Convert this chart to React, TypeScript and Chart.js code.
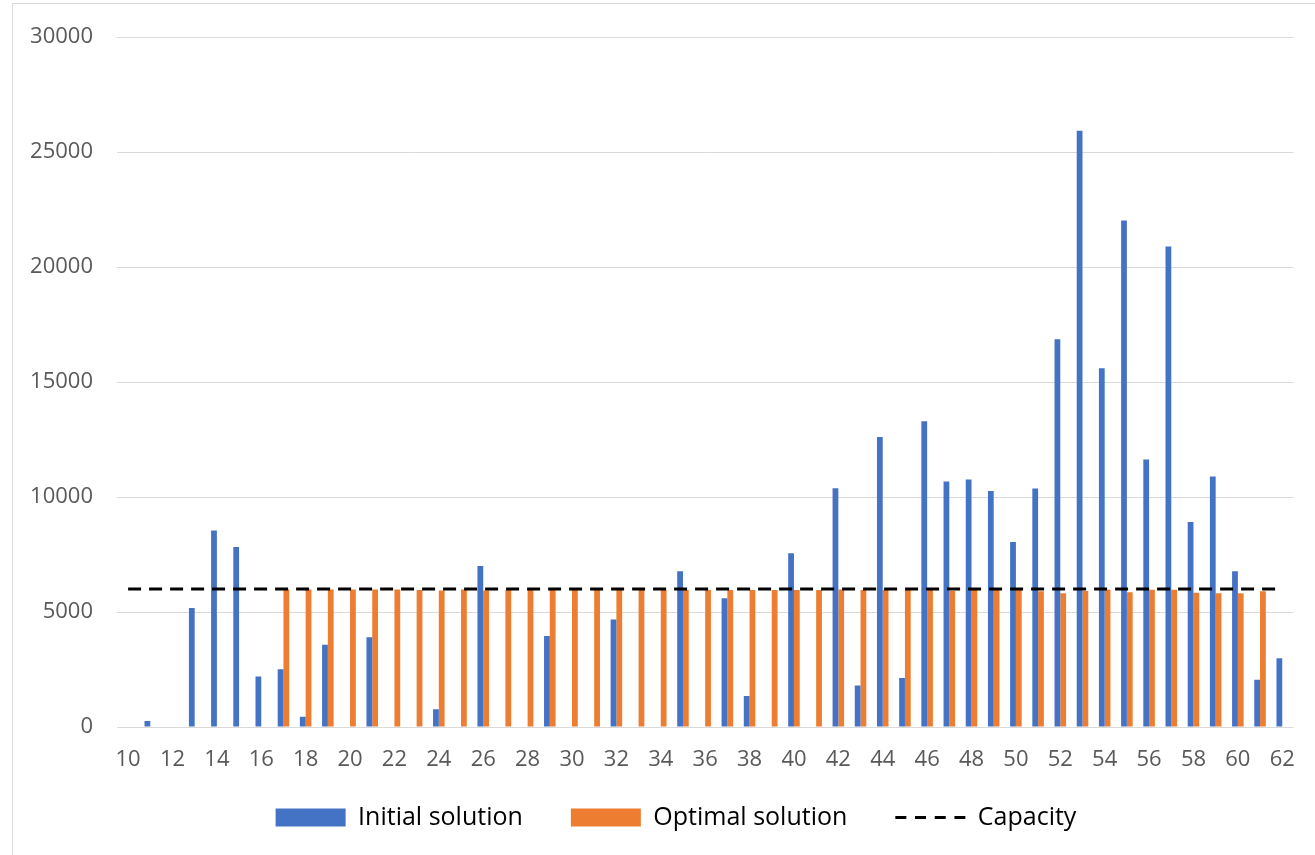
import { useEffect, useRef } from "react";
import { Chart, registerables } from "chart.js";

Chart.register(...registerables);

// Node numbers along the x axis
const categories = [
  "10", "11", "12", "13", "14", "15", "16", "17", "18", "19",
  "20", "21", "22", "23", "24", "25", "26", "27", "28", "29",
  "30", "31", "32", "33", "34", "35", "36", "37", "38", "39",
  "40", "41", "42", "43", "44", "45", "46", "47", "48", "49",
  "50", "51", "52", "53", "54", "55", "56", "57", "58", "59",
  "60", "61", "62",
];

// Load per node before optimisation
const initialSolution = [
  0, 260, 0, 5170, 8550, 7830, 2200, 2510, 450, 3580,
  0, 3900, 0, 0, 770, 0, 7000, 0, 0, 3960,
  0, 0, 4670, 0, 0, 6770, 0, 5600, 1350, 0,
  7560, 0, 10380, 1800, 12610, 2130, 13300, 10680, 10760, 10260,
  8050, 10370, 16860, 25930, 15600, 22030, 11630, 20900, 8920, 10890,
  6770, 2060, 2990,
];

// Load per node after optimisation
const optimalSolution = [
  0, 0, 0, 0, 0, 0, 0, 5980, 5980, 5980,
  5980, 5980, 5980, 5960, 5940, 5980, 5940, 5960, 5980, 5960,
  5960, 5980, 5980, 5960, 5960, 5960, 5960, 5960, 5960, 5960,
  5960, 5960, 5980, 5960, 5970, 5970, 5970, 5920, 5970, 5970,
  5970, 5900, 5820, 5920, 5970, 5860, 5970, 5970, 5840, 5820,
  5820, 5900, 0,
];

// Capacity limit, constant across all nodes
const capacityLimit = 6000;

// Value axis range
const yMin = 0;
const yMax = 30000;
const yStep = 5000;

const seriesNames = ["Initial solution", "Optimal solution", "Capacity"];

const BLUE = "#4472C4";
const ORANGE = "#ED7D31";
const TEXT = "#595959";
const GRID = "#D9D9D9";

// Let tick labels draw outside their (fixed-size) axis boxes
const noLabelClip = (scale: any) => {
  scale._computeLabelArea = () => undefined;
};

export default function App() {
  const canvasRef = useRef<HTMLCanvasElement | null>(null);

  useEffect(() => {
    const canvas = canvasRef.current;
    if (!canvas) return;

    Chart.defaults.font.family = "'Open Sans', sans-serif";

    const chart = new Chart(canvas, {
      type: "bar",
      data: {
        labels: categories,
        datasets: [
          {
            type: "line",
            label: seriesNames[2],
            data: categories.map(() => capacityLimit),
            borderColor: "#000000",
            backgroundColor: "rgba(0,0,0,0)",
            borderWidth: 3,
            borderDash: [13, 8],
            pointRadius: 0,
            fill: false,
            order: 0,
          } as any,
          {
            label: seriesNames[0],
            data: initialSolution,
            backgroundColor: BLUE,
            borderWidth: 0,
            categoryPercentage: 0.52,
            barPercentage: 1.0,
            order: 1,
          },
          {
            label: seriesNames[1],
            data: optimalSolution,
            backgroundColor: ORANGE,
            borderWidth: 0,
            categoryPercentage: 0.52,
            barPercentage: 1.0,
            order: 2,
          },
        ],
      },
      options: {
        responsive: false,
        maintainAspectRatio: false,
        animation: false,
        layout: {
          padding: { left: 55, right: 18, top: 34, bottom: 15 },
        },
        plugins: {
          tooltip: { enabled: false },
          title: { display: false },
          legend: {
            display: true,
            position: "bottom",
            labels: {
              color: TEXT,
              font: { size: 25 },
              usePointStyle: true,
              pointStyleWidth: 70,
              boxHeight: 18,
              padding: 48,
              generateLabels: () => [
                {
                  text: seriesNames[0],
                  fillStyle: BLUE,
                  strokeStyle: BLUE,
                  lineWidth: 0,
                  pointStyle: "rect",
                  hidden: false,
                  datasetIndex: 1,
                },
                {
                  text: seriesNames[1],
                  fillStyle: ORANGE,
                  strokeStyle: ORANGE,
                  lineWidth: 0,
                  pointStyle: "rect",
                  hidden: false,
                  datasetIndex: 2,
                },
                {
                  text: seriesNames[2],
                  fillStyle: "rgba(0,0,0,0)",
                  strokeStyle: "#000000",
                  lineWidth: 3,
                  lineDash: [11, 8.7],
                  pointStyle: "line",
                  hidden: false,
                  datasetIndex: 0,
                },
              ],
            },
          },
        },
        scales: {
          x: {
            grid: { display: false, drawTicks: false },
            border: { display: false },
            ticks: {
              color: TEXT,
              font: { size: 22 },
              padding: 20,
              autoSkip: false,
              maxRotation: 0,
              minRotation: 0,
              callback: (_v: any, i: number) => (i % 2 === 0 ? categories[i] : ""),
            },
            afterFit: (scale: any) => {
              scale.height = 30;
              noLabelClip(scale);
            },
          },
          y: {
            min: yMin,
            max: yMax,
            grid: { color: GRID, lineWidth: 1, drawTicks: false },
            border: { display: false },
            ticks: {
              stepSize: yStep,
              color: TEXT,
              font: { size: 22 },
              padding: 24,
              callback: (v: any) => String(v),
            },
            afterFit: (scale: any) => {
              scale.width = 62;
              noLabelClip(scale);
            },
          },
        },
      },
    });

    return () => chart.destroy();
  }, []);

  return (
    <div
      style={{
        position: "fixed",
        left: 0,
        top: 0,
        width: 1315,
        height: 855,
        background: "#ffffff",
        overflow: "hidden",
      }}
    >
      <div
        style={{
          position: "absolute",
          left: 12,
          top: 3,
          width: 1320,
          height: 870,
          borderLeft: `1px solid ${GRID}`,
          borderTop: `1px solid ${GRID}`,
        }}
      />
      <canvas
        ref={canvasRef}
        width={1315}
        height={855}
        style={{ position: "absolute", left: 0, top: 0 }}
      />
    </div>
  );
}
